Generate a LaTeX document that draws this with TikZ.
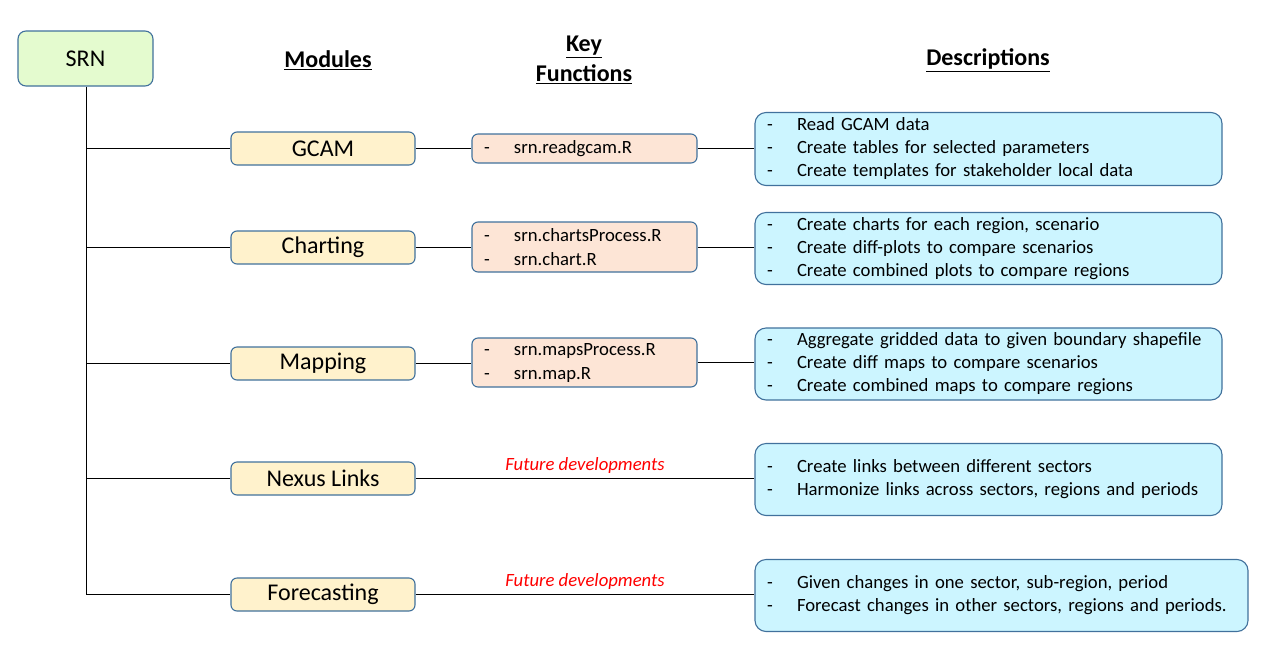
\documentclass[tikz,border=0pt]{standalone}
\usepackage{fontspec}
\setmainfont{Carlito}
\definecolor{bordc}{HTML}{41719C}
\definecolor{srnfill}{HTML}{E4FBCF}
\definecolor{modfill}{HTML}{FFF2CC}
\definecolor{funfill}{HTML}{FDE5D6}
\definecolor{descfill}{HTML}{CCF5FF}
\newcommand{\dd}{\makebox[30pt][l]{-}}
\tikzset{
  box/.style={draw=bordc, line width=1.1pt, rounded corners=6pt, inner sep=0pt},
  srnbox/.style={box, fill=srnfill, minimum width=135pt, minimum height=55pt, rounded corners=8pt, font=\fontsize{24}{28}\selectfont},
  modbox/.style={box, fill=modfill, minimum width=184pt, minimum height=33pt, font=\fontsize{24}{28}\selectfont},
  funbox/.style={box, fill=funfill, minimum width=225pt, text width=201pt, inner xsep=12pt, align=left, font=\fontsize{18.7}{24}\selectfont},
  descbox/.style={box, fill=descfill, minimum height=73pt, inner xsep=12pt, align=left, rounded corners=11pt, font=\fontsize{18.7}{23}\selectfont},
  header/.style={font=\fontsize{24}{30}\selectfont\bfseries, align=center},
  link/.style={draw=black, line width=1pt},
  future/.style={font=\fontsize{18.7}{22}\selectfont\itshape, text=red}
}
\begin{document}
\begin{tikzpicture}[x=1pt,y=-1pt]
\useasboundingbox (0,0) rectangle (1270,649);
% root
\node[srnbox] (srn) at (85.5,58.5) {SRN};
% headers
\node[header] (hmod) at (328,60) {\underline{Modules}};
\node[header] (hkey) at (584,60) {\underline{Key}\\\underline{Functions}};
\node[header] (hdesc) at (988,60) {\underline{Descriptions}};
% modules
\node[modbox] (gcam) at (323,148.5) {GCAM};
\node[modbox] (chart) at (323,247.5) {Charting};
\node[modbox] (map) at (323,363.5) {Mapping};
\node[modbox] (nexus) at (323,478.5) {Nexus Links};
\node[modbox] (fore) at (323,594.5) {Forecasting};
% functions
\node[funbox, minimum height=29pt] (fgcam) at (584.5,148.5) {\dd srn.readgcam.R};
\node[funbox, minimum height=50pt] (fchart) at (584.5,247) {\dd srn.chartsProcess.R\\\dd srn.chart.R};
\node[funbox, minimum height=49pt] (fmap) at (584.5,362.5) {\dd srn.mapsProcess.R\\\dd srn.map.R};
% descriptions
\node[descbox, minimum width=467pt, text width=443pt] (dgcam) at (988.5,149) {\dd Read GCAM data\\\dd Create tables for selected parameters\\\dd Create templates for stakeholder local data};
\node[descbox, minimum width=467pt, text width=443pt, minimum height=72pt] (dchart) at (988.5,248.5) {\dd Create charts for each region, scenario\\\dd Create diff-plots to compare scenarios\\\dd Create combined plots to compare regions};
\node[descbox, minimum width=467pt, text width=443pt, minimum height=72pt] (dmap) at (988.5,364) {\dd Aggregate gridded data to given boundary shapefile\\\dd Create diff maps to compare scenarios\\\dd Create combined maps to compare regions};
\node[descbox, minimum width=467pt, text width=443pt, minimum height=72pt] (dnexus) at (988.5,479.5) {\dd Create links between different sectors\\\dd Harmonize links across sectors, regions and periods};
\node[descbox, minimum width=493pt, text width=469pt, minimum height=72pt] (dfore) at (1001.5,595.5) {\dd Given changes in one sector, sub-region, period\\\dd Forecast changes in other sectors, regions and periods.};
% trunk
\coordinate (tgcam) at (86,148.5);
\coordinate (tchart) at (86,247.5);
\coordinate (tmap) at (86,363.5);
\coordinate (tnexus) at (86,478.5);
\coordinate (tfore) at (86,594.5);
\draw[link] (srn.south -| tfore) -- (tfore);
\draw[link] (tgcam) -- (gcam.west);
\draw[link] (tchart) -- (chart.west);
\draw[link] (tmap) -- (map.west);
\draw[link] (tnexus) -- (nexus.west);
\draw[link] (tfore) -- (fore.west);
% module to function
\draw[link] (gcam.east) -- (fgcam.west);
\draw[link] (chart.east) -- (chart.east -| fchart.west);
\draw[link] (map.east) -- (map.east -| fmap.west);
% function to description
\draw[link] (fgcam.east) -- (fgcam.east -| dgcam.west);
\draw[link] (fchart.east) -- (fchart.east -| dchart.west);
\draw[link] (fmap.east) -- (fmap.east -| dmap.west);
% future
\draw[link] (nexus.east) -- (nexus.east -| dnexus.west) node[future, midway, above=1pt] (fut1) {Future developments};
\draw[link] (fore.east) -- (fore.east -| dfore.west) node[future, midway, above=1pt] (fut2) {Future developments};
\end{tikzpicture}
\end{document}
